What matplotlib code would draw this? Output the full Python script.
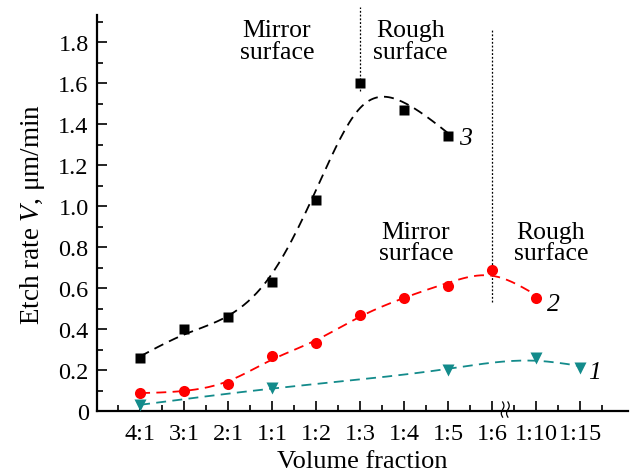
import numpy as np
import matplotlib
matplotlib.use("Agg")
import matplotlib.pyplot as plt
from matplotlib.ticker import MultipleLocator, FixedLocator

plt.rcParams['font.family'] = ['Liberation Serif', 'DejaVu Serif']
plt.rcParams['mathtext.fontset'] = 'custom'
plt.rcParams['mathtext.rm'] = 'Liberation Serif'
plt.rcParams['mathtext.it'] = 'Liberation Serif:italic'

# ---- data ----
categories = ["4:1", "3:1", "2:1", "1:1", "1:2", "1:3", "1:4", "1:5", "1:6", "1:10", "1:15"]

s3_idx = [0, 1, 2, 3, 4, 5, 6, 7]
s3_val = [0.26, 0.40, 0.46, 0.63, 1.03, 1.60, 1.47, 1.34]

s2_idx = [0, 1, 2, 3, 4, 5, 6, 7, 8, 9]
s2_val = [0.09, 0.10, 0.13, 0.27, 0.33, 0.47, 0.55, 0.61, 0.69, 0.55]

s1_idx = [0, 3, 7, 9, 10]
s1_val = [0.03, 0.11, 0.20, 0.26, 0.21]

yticks = [0, 0.2, 0.4, 0.6, 0.8, 1.0, 1.2, 1.4, 1.6, 1.8]
ytick_labels = ["0", "0.2", "0.4", "0.6", "0.8", "1.0", "1.2", "1.4", "1.6", "1.8"]

BLACK = "#000000"
RED = "#ff0000"
TEAL = "#138b8b"


def smooth_curve(xs, ys, lam, step=0.05):
    """Penalised (smoothing-spline-like) fit of the data on a fine grid."""
    xs = np.asarray(xs, float)
    ys = np.asarray(ys, float)
    grid = np.arange(xs[0], xs[-1] + step / 2, step)
    n = len(grid)
    w = np.zeros(n)
    yv = np.zeros(n)
    for x, y in zip(xs, ys):
        k = int(round((x - xs[0]) / step))
        w[k] = 1.0
        yv[k] = y
    D = np.diff(np.eye(n), 2, axis=0) / step ** 2
    A = np.diag(w) + lam * step * D.T @ D
    z = np.linalg.solve(A, w * yv)
    return grid, z


fig = plt.figure(figsize=(6.35, 4.77), dpi=100)
ax = fig.add_axes([97 / 635, 65 / 477, 531 / 635, 395.6 / 477])

series = [
    (s3_idx, s3_val, BLACK, 's', 7, 0.12),
    (s2_idx, s2_val, RED, 'o', 8, 0.08),
    (s1_idx, s1_val, TEAL, 'v', 8.5, 0.2),
]
for xi, yi, col, mk, ms, lam in series:
    gx, gy = smooth_curve(xi, yi, lam)
    ln, = ax.plot(gx, gy, color=col, lw=1.3, ls='--', zorder=2)
    ln.set_dashes((5.5, 3.5))
    ax.plot(xi, yi, ls='none', marker=mk, color=col, ms=ms, mec='none', zorder=3,
            clip_on=False)

ax.set_xlim(-0.98, 11.09)
ax.set_ylim(0, 1.93)

for side in ('top', 'right'):
    ax.spines[side].set_visible(False)
for side in ('left', 'bottom'):
    ax.spines[side].set_linewidth(1.6)

ax.set_xticks(range(len(categories)))
ax.set_xticklabels(categories)
ax.xaxis.set_minor_locator(FixedLocator(np.arange(-0.5, 11.1, 1.0)))
ax.set_yticks(yticks)
ax.set_yticklabels(ytick_labels)
ax.yaxis.set_minor_locator(MultipleLocator(0.1))

ax.tick_params(axis='both', which='major', direction='in', length=7, width=1.2,
               labelsize=17.5, pad=6)
ax.tick_params(axis='both', which='minor', direction='in', length=4, width=1.2)
ax.tick_params(axis='x', which='major', pad=9)

ax.set_xlabel("Volume fraction", fontsize=19, labelpad=4)
ax.set_ylabel(r"Etch rate $V$, μm/min", fontsize=19.5, labelpad=8)

# vertical dotted separators
ax.plot([5, 5], [1.56, 1.97], color='black', lw=0.9, ls=(0, (1.5, 1.5)), clip_on=False)
ax.plot([8, 8], [0.53, 1.86], color='black', lw=0.9, ls=(0, (1.5, 1.5)), clip_on=False)

# region annotations
ann_kw = dict(fontsize=18.5, ha='center', va='center', linespacing=0.95)
ax.text(3.11, 1.805, "Mirror\nsurface", **ann_kw)
ax.text(6.15, 1.805, "Rough\nsurface", **ann_kw)
ax.text(6.27, 0.824, "Mirror\nsurface", **ann_kw)
ax.text(9.34, 0.824, "Rough\nsurface", **ann_kw)

# curve numbers
num_kw = dict(fontsize=18.5, style='italic', ha='center', va='center')
ax.text(7.39, 1.33, "3", **num_kw)
ax.text(9.39, 0.52, "2", **num_kw)
ax.text(10.34, 0.19, "1", **num_kw)

# axis break squiggles
t = np.linspace(-1, 1, 40)
for off in (-0.06, 0.06):
    bx = 8.3 + off + 0.03 * np.sin(t * np.pi)
    by = -0.03 + 0.037 * (t + 1)
    ax.plot(bx, by, color='black', lw=0.9, clip_on=False, zorder=5)

fig.savefig("out.png", dpi=100)
